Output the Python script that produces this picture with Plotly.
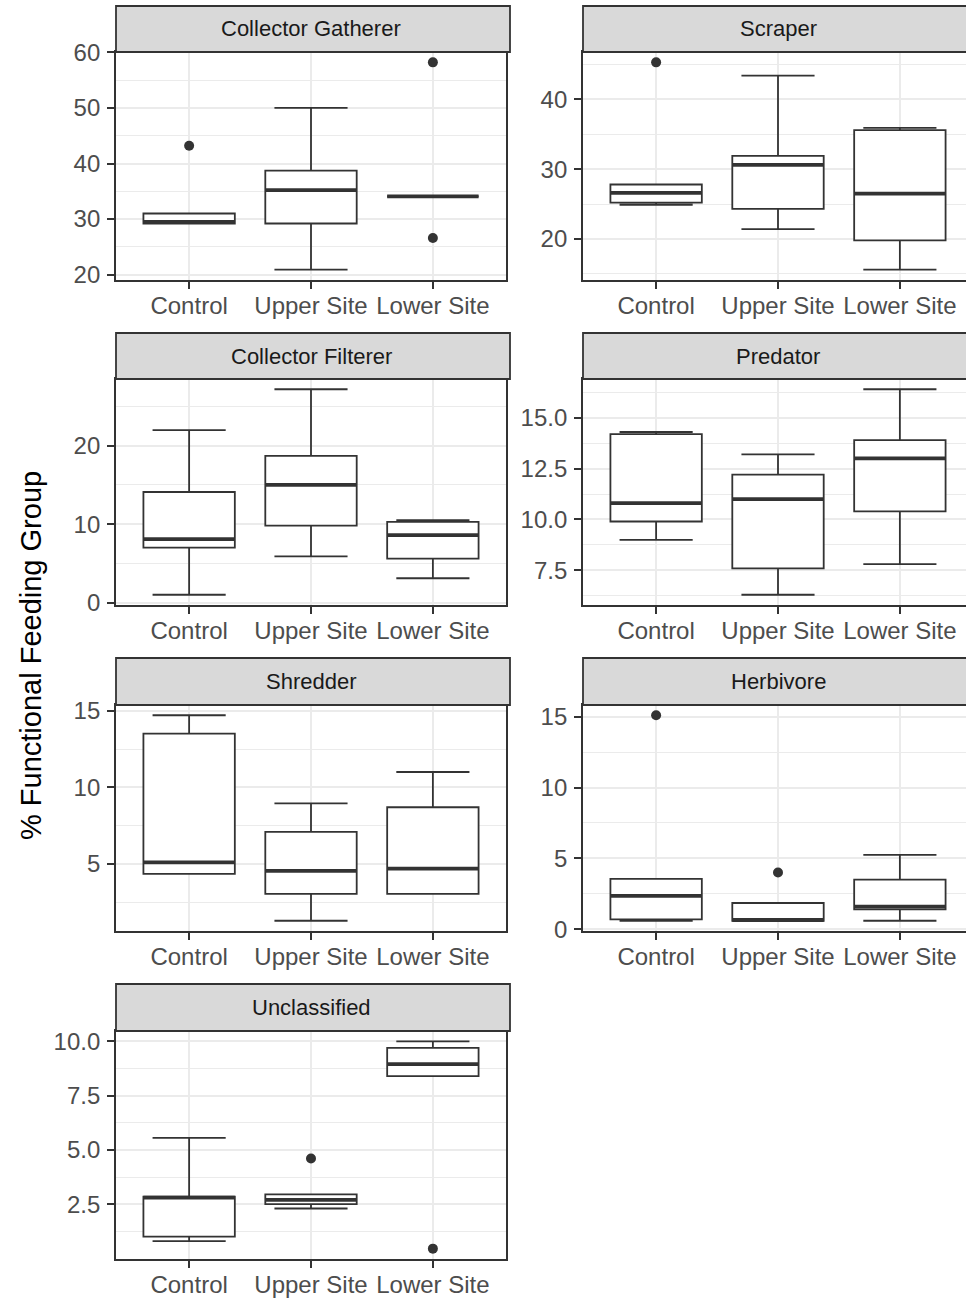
import plotly.graph_objects as go

# ---------------- data ----------------
groups = ["Control", "Upper Site", "Lower Site"]
facets = ["Collector Gatherer", "Scraper", "Collector Filterer", "Predator",
          "Shredder", "Herbivore", "Unclassified"]

# per facet: values for Control, Upper Site, Lower Site
whisker_low = [[29.2, 20.9, 34.1], [24.9, 21.4, 15.6], [1.0, 5.9, 3.1], [9.0, 6.3, 7.8],
               [4.35, 1.3, 3.05], [0.6, 0.6, 0.6], [0.8, 2.3, 8.4]]
q1 = [[29.2, 29.2, 34.1], [25.2, 24.3, 19.8], [7.0, 9.8, 5.6], [9.9, 7.6, 10.4],
      [4.35, 3.05, 3.05], [0.7, 0.6, 1.4], [1.0, 2.5, 8.4]]
median = [[29.5, 35.2, 34.1], [26.6, 30.6, 26.5], [8.1, 15.0, 8.6], [10.8, 11.0, 13.0],
          [5.1, 4.55, 4.7], [2.35, 0.65, 1.6], [2.8, 2.7, 8.95]]
q3 = [[31.0, 38.7, 34.1], [27.8, 31.9, 35.6], [14.1, 18.7, 10.3], [14.2, 12.2, 13.9],
      [13.5, 7.1, 8.7], [3.55, 1.85, 3.5], [2.85, 2.95, 9.7]]
whisker_high = [[31.0, 50.0, 34.1], [27.8, 43.4, 35.9], [22.0, 27.2, 10.5], [14.3, 13.2, 16.4],
                [14.7, 8.95, 11.0], [3.55, 1.85, 5.25], [5.55, 2.95, 10.0]]
outlier_group = [["Control", "Lower Site", "Lower Site"], ["Control"], [], [], [],
                 ["Control", "Upper Site"], ["Upper Site", "Lower Site"]]
outlier_value = [[43.2, 58.2, 26.6], [45.3], [], [], [], [15.1, 4.0], [4.6, 0.45]]

y_ticks = [[20, 30, 40, 50, 60], [20, 30, 40], [0, 10, 20], [7.5, 10.0, 12.5, 15.0],
           [5, 10, 15], [0, 5, 10, 15], [2.5, 5.0, 7.5, 10.0]]
y_tick_labels = [["20", "30", "40", "50", "60"], ["20", "30", "40"], ["0", "10", "20"],
                 ["7.5", "10.0", "12.5", "15.0"], ["5", "10", "15"], ["0", "5", "10", "15"],
                 ["2.5", "5.0", "7.5", "10.0"]]
y_title = "% Functional Feeding Group"

# ---------------- layout geometry ----------------
W, H = 966, 1298
col_px = [(116, 506), (583, 973)]
row_px = [(6, 52, 280), (333, 379, 605), (658, 705, 931), (984, 1031, 1259)]
px_per_unit = (col_px[0][1] - col_px[0][0]) / 3.2

LINE = "#333333"
GRID = "#EBEBEB"
FONT = "Liberation Sans, Arial, sans-serif"
BOX_W = 0.75

fig = go.Figure()
shapes, annotations = [], []
pos = {g: i + 1 for i, g in enumerate(groups)}

for i, name in enumerate(facets):
    r, c = divmod(i, 2)
    ax = "" if i == 0 else str(i + 1)
    xl, xr = col_px[c]
    st, pt, pb = row_px[r]
    xr_vis = min(xr, W)
    x_dom = [xl / W, xr_vis / W]
    y_dom = [1 - pb / H, 1 - pt / H]
    x_range = [0.4, 0.4 + (xr_vis - xl) / px_per_unit]

    allv = whisker_low[i] + whisker_high[i] + outlier_value[i]
    lo, hi = min(allv), max(allv)
    pad = 0.05 * (hi - lo)
    y_range = [lo - pad, hi + pad]

    ticks = y_ticks[i]
    step = ticks[1] - ticks[0]
    minor = [t + step / 2 for t in [ticks[0] - step] + ticks]
    minor = [m for m in minor if y_range[0] <= m <= y_range[1]]

    xs = [pos[g] for g in groups]
    fig.add_trace(go.Box(
        x=xs, q1=q1[i], median=median[i], q3=q3[i],
        lowerfence=whisker_low[i], upperfence=whisker_high[i],
        width=BOX_W, whiskerwidth=0.8, fillcolor="white",
        line=dict(color=LINE, width=1.8), boxpoints=False,
        hoverinfo="skip", showlegend=False,
        xaxis="x" + ax, yaxis="y" + ax))

    mx, my = [], []
    for x, m in zip(xs, median[i]):
        mx += [x - BOX_W / 2, x + BOX_W / 2, None]
        my += [m, m, None]
    fig.add_trace(go.Scatter(x=mx, y=my, mode="lines", line=dict(color=LINE, width=3.8),
                             hoverinfo="skip", showlegend=False,
                             xaxis="x" + ax, yaxis="y" + ax))

    if outlier_value[i]:
        fig.add_trace(go.Scatter(x=[pos[g] for g in outlier_group[i]], y=outlier_value[i],
                                 mode="markers", marker=dict(color=LINE, size=10),
                                 hoverinfo="skip", showlegend=False,
                                 xaxis="x" + ax, yaxis="y" + ax))

    fig.update_layout(**{
        "xaxis" + ax: dict(domain=x_dom, range=x_range, anchor="y" + ax, automargin=False,
                           tickmode="array", tickvals=xs, ticktext=groups,
                           showgrid=True, gridcolor=GRID, gridwidth=1.8, zeroline=False,
                           showline=True, mirror=True, linecolor=LINE, linewidth=1.8,
                           ticks="outside", ticklen=7, tickwidth=1.8, tickcolor=LINE,
                           ticklabelstandoff=-4,
                           tickfont=dict(size=24, color="#4D4D4D", family=FONT),
                           fixedrange=True),
        "yaxis" + ax: dict(domain=y_dom, range=y_range, anchor="x" + ax, automargin=False,
                           tickmode="array", tickvals=ticks, ticktext=y_tick_labels[i],
                           showgrid=True, gridcolor=GRID, gridwidth=1.8, zeroline=False,
                           minor=dict(tickmode="array", tickvals=minor, showgrid=True,
                                      gridcolor=GRID, gridwidth=1, ticks=""),
                           showline=True, mirror=(c == 0), linecolor=LINE, linewidth=1.8,
                           ticks="outside", ticklen=7, tickwidth=1.8, tickcolor=LINE,
                           ticklabelstandoff=2,
                           tickfont=dict(size=24, color="#4D4D4D", family=FONT),
                           fixedrange=True),
    })

    # facet strip
    shapes.append(dict(type="rect", xref="paper", yref="paper",
                       x0=xl / W, x1=(xr + 4) / W, y0=1 - pt / H, y1=1 - st / H,
                       fillcolor="#D9D9D9", line=dict(color=LINE, width=1.8), layer="above"))
    annotations.append(dict(text=name, xref="paper", yref="paper",
                            x=(xl + xr) / 2 / W, y=1 - (st + pt) / 2 / H,
                            showarrow=False, xanchor="center", yanchor="middle",
                            font=dict(size=22, color="#1A1A1A", family=FONT)))

annotations.append(dict(text=y_title, xref="paper", yref="paper", x=31 / W, y=1 - 656 / H,
                        textangle=-90, showarrow=False, xanchor="center", yanchor="middle",
                        font=dict(size=29, color="black", family=FONT)))

fig.update_layout(template="none", width=W, height=H, margin=dict(l=0, r=0, t=0, b=0),
                  paper_bgcolor="white", plot_bgcolor="white",
                  shapes=shapes, annotations=annotations,
                  font=dict(family=FONT), showlegend=False)

fig.write_html("out.html", config={"displayModeBar": False})
